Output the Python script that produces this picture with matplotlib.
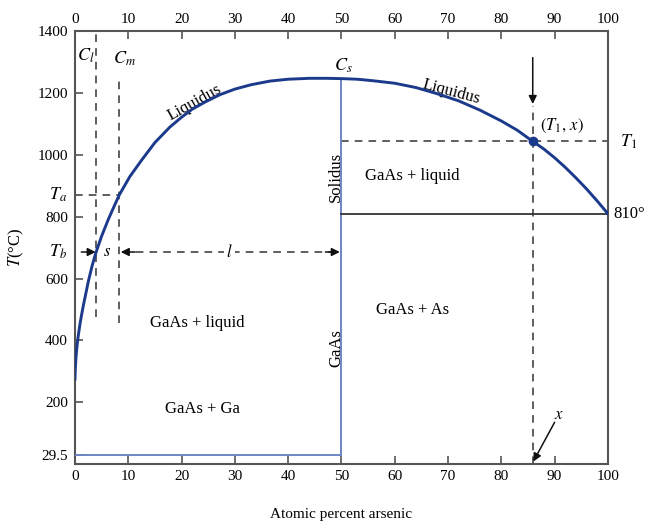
import matplotlib
matplotlib.use("Agg")
import matplotlib.pyplot as plt

plt.rcParams['font.family'] = ['Liberation Serif', 'DejaVu Serif']
plt.rcParams['mathtext.fontset'] = 'stix'

# liquidus (atomic % As, degrees C)
liq_x = [0, 0.05, 0.1, 0.2, 0.35, 0.6, 0.9, 1.2, 1.6, 2.0, 2.5, 3.2, 3.9, 5.0, 6.25, 7.2,
         8.3, 10.3, 12.5, 15, 17.8, 20, 22, 24.5, 27.2, 30, 33, 36.6, 40, 44, 47, 50,
         53, 56, 60, 64, 68, 72, 76, 80, 83, 85.9, 88, 90, 92, 94, 96, 98, 100]
liq_t = [275, 300, 318, 345, 375, 412, 448, 478, 515, 548, 590, 640, 682, 737, 791, 828,
         870, 930, 983, 1040, 1090, 1122, 1148, 1172, 1195, 1213, 1227, 1239, 1245, 1248, 1248, 1247,
         1245, 1240, 1232, 1218, 1198, 1175, 1145, 1110, 1080, 1044, 1019, 991, 960, 926, 890, 851, 810]

x_ticks = [0, 10, 20, 30, 40, 50, 60, 70, 80, 90, 100]
y_ticks = [29.5, 200, 400, 600, 800, 1000, 1200, 1400]
y_labels = ['29.5', '200', '400', '600', '800', '1000', '1200', '1400']

eutectic_ga = 29.5
eutectic_as = 810
c_l, c_m, c_s = 3.9, 8.3, 50
t_a, t_b = 872, 686
x_pt, t_1 = 85.9, 1044

curve_col = '#1c3a8c'
sol_col = '#6c85c2'
dash_col = '#333333'
spine_col = '#555555'

fig = plt.figure(figsize=(6.46, 5.22), dpi=100)
ax = fig.add_axes([0.116, 0.111, 0.825, 0.829])
ax.set_xlim(0, 100)
ax.set_ylim(0, 1400)

for s in ax.spines.values():
    s.set_color(spine_col)
    s.set_linewidth(1.5)

ax.set_xticks(x_ticks)
ax.set_xticklabels([str(v) for v in x_ticks])
ax.set_yticks(y_ticks)
ax.set_yticklabels(y_labels)
ax.tick_params(direction='in', length=6, width=1.2, color=spine_col, labelsize=11,
               top=True, labeltop=True, pad=4)
ax.tick_params(axis='y', pad=5)
ax.set_xlabel('Atomic percent arsenic', fontsize=11, labelpad=18)
ax.set_ylabel(r'$T$(°C)', fontsize=12, labelpad=8)

# phase boundaries
ax.plot(liq_x, liq_t, color=curve_col, lw=2.1, zorder=4, solid_joinstyle='round')
ax.plot([c_s, c_s], [eutectic_ga, 1247], color=sol_col, lw=1.4, zorder=3)
ax.plot([0, c_s], [eutectic_ga, eutectic_ga], color=sol_col, lw=1.4, zorder=3)
ax.plot([c_s, 100], [eutectic_as, eutectic_as], color='#333333', lw=1.3, zorder=3)

dash = dict(color=dash_col, lw=1.1, ls=(0, (5, 4)), zorder=2)
ax.plot([c_l, c_l], [476, 1400], **dash)
ax.plot([c_m, c_m], [456, 1250], **dash)
ax.plot([0, c_m], [t_a, t_a], **dash)
ax.plot([c_s, 100], [t_1, t_1], **dash)
ax.plot([x_pt, x_pt], [0, 1160], **dash)
ax.plot([c_m + 0.6, c_s - 0.6], [t_b, t_b], **dash)

ax.plot([x_pt], [t_1], 'o', color=curve_col, ms=6, zorder=5)

arr = dict(arrowstyle='-|>', color='#111111', lw=1.1, mutation_scale=12, shrinkA=0, shrinkB=0)
ax.annotate('', xy=(c_l, t_b), xytext=(1.2, t_b), arrowprops=arr)
ax.annotate('', xy=(c_m + 0.3, t_b), xytext=(c_m + 3, t_b), arrowprops=arr)
ax.annotate('', xy=(c_s - 0.3, t_b), xytext=(c_s - 3, t_b), arrowprops=arr)
ax.annotate('', xy=(x_pt, 1165), xytext=(x_pt, 1315), arrowprops=arr)
ax.annotate('', xy=(x_pt + 0.1, 8), xytext=(90, 135), arrowprops=arr)

# labels
tk = dict(fontsize=13, zorder=6)
ax.text(2.0, 1322, r'$C_l$', ha='center', va='center', **tk)
ax.text(9.2, 1310, r'$C_m$', ha='center', va='center', **tk)
ax.text(50.3, 1290, r'$C_s$', ha='center', va='center', **tk)
ax.text(-1.5, t_a, r'$T_a$', ha='right', va='center', **tk)
ax.text(-1.5, t_b, r'$T_b$', ha='right', va='center', **tk)
ax.text(102.2, t_1, r'$T_1$', ha='left', va='center', **tk)
ax.text(101.0, eutectic_as, '810°', ha='left', va='center', fontsize=12)
ax.text(6.0, t_b, r'$s$', ha='center', va='center', fontsize=12)
ax.text(29, t_b, r'$l$', ha='center', va='center', fontsize=12,
        bbox=dict(fc='white', ec='none', pad=1.5), zorder=3)
ax.text(87.3, 1093, r'$(T_1,\,x)$', ha='left', va='center', fontsize=12)
ax.text(90.8, 160, r'$x$', ha='center', va='center', fontsize=12)

ax.text(22.5, 1168, 'Liquidus', rotation=29, ha='center', va='center', fontsize=12)
ax.text(70.7, 1205, 'Liquidus', rotation=-15, ha='center', va='center', fontsize=12)
ax.text(49.0, 930, 'Solidus', rotation=90, ha='center', va='center', fontsize=12)
ax.text(49.0, 375, 'GaAs', rotation=90, ha='center', va='center', fontsize=12)

ax.text(63.2, 931, 'GaAs + liquid', ha='center', va='center', fontsize=12)
ax.text(22.9, 456, 'GaAs + liquid', ha='center', va='center', fontsize=12)
ax.text(63.4, 498, 'GaAs + As', ha='center', va='center', fontsize=12)
ax.text(24.0, 178, 'GaAs + Ga', ha='center', va='center', fontsize=12)

fig.savefig('out.png', dpi=100, facecolor='white')
